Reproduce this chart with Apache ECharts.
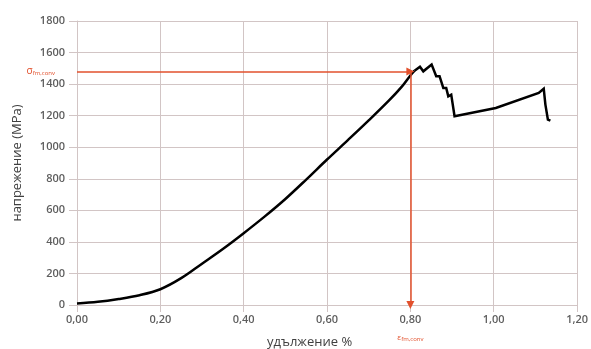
<!DOCTYPE html>
<html>
<head>
<meta charset="utf-8">
<script src="https://cdn.jsdelivr.net/npm/echarts@6/dist/echarts.min.js"></script>
<style>html,body{margin:0;padding:0;background:#fff}#c{width:591px;height:349px}</style>
</head>
<body>
<div id="c"></div>
<script>
// rising (smooth) part of the curve
const riseStrain = [0,0.05,0.1,0.15,0.2,0.25,0.3,0.35,0.4,0.45,0.5,0.55,0.6,0.65,0.7,0.75,0.78,0.8,0.81];
const riseStress = [10,20,38,62,100,170,262,355,455,560,672,795,922,1045,1170,1300,1386,1455,1485];
// failure (jagged) part of the curve
const failStrain = [0.81,0.823,0.831,0.851,0.862,0.870,0.879,0.886,0.891,0.898,0.906,1.005,1.108,1.120,1.124,1.128,1.130,1.136];
const failStress = [1485,1510,1481,1524,1450,1450,1376,1376,1323,1333,1196,1249,1344,1371,1270,1259,1175,1168];
const sigmaFm = 1480;
const epsFm = 0.8;
const xTitle = 'удължение %';
const yTitle = 'напрежение (MPa)';

const gridColor = '#d2c5c5';
const red = '#e2502c';
const lineStyle = {color: '#000', width: 2.5, join: 'miter'};
const chart = echarts.init(document.getElementById('c'));
chart.setOption({
  animation: false,
  backgroundColor: '#fff',
  title: {
    text: xTitle, left: 262, top: 331,
    textStyle: {fontFamily: 'Open Sans', fontSize: 13, fontWeight: 'normal', color: '#404040'}
  },
  grid: {left: 77, right: 9, top: 21, bottom: 44},
  xAxis: {
    type: 'value', min: 0, max: 1.2, interval: 0.2,
    axisLine: {show: true, lineStyle: {color: gridColor, width: 1}},
    axisTick: {show: true, length: 7, lineStyle: {color: gridColor}},
    splitLine: {show: true, lineStyle: {color: gridColor, width: 1}},
    axisLabel: {
      formatter: v => v.toFixed(2).replace('.', ','),
      fontFamily: 'Open Sans', fontSize: 11, fontWeight: 600, color: '#5e5e5e', margin: 9
    }
  },
  yAxis: {
    type: 'value', min: 0, max: 1800, interval: 200,
    name: yTitle, nameLocation: 'middle', nameGap: 53,
    nameTextStyle: {fontFamily: 'Open Sans', fontSize: 13, color: '#404040'},
    axisLine: {show: true, lineStyle: {color: gridColor, width: 1}},
    axisTick: {show: true, length: 8, lineStyle: {color: gridColor}},
    splitLine: {show: true, lineStyle: {color: gridColor, width: 1}},
    axisLabel: {formatter: v => String(v), fontFamily: 'Open Sans', fontSize: 11, fontWeight: 600, color: '#5e5e5e', margin: 12}
  },
  series: [{
    type: 'line',
    data: riseStrain.map((x, i) => [x, riseStress[i]]),
    showSymbol: false, smooth: 0.35,
    lineStyle: lineStyle, z: 3
  }, {
    type: 'line',
    data: failStrain.map((x, i) => [x, failStress[i]]),
    showSymbol: false,
    lineStyle: lineStyle, z: 3,
    markLine: {
      silent: true,
      symbol: ['none', 'triangle'],
      symbolSize: [8, 8],
      lineStyle: {color: red, width: 1.5, type: 'solid'},
      data: [
        [{coord: [0, sigmaFm], symbol: 'none',
          label: {show: true, position: 'start', distance: 22,
            formatter: '{a|σ}{b|fm,conv}',
            rich: {a: {color: red, fontSize: 10, fontFamily: 'Open Sans'}, b: {color: red, fontSize: 6, fontFamily: 'Open Sans', padding: [4, 0, 0, 0]}}}},
         {coord: [epsFm, sigmaFm], symbol: 'triangle', symbolRotate: -90}],
        [{coord: [epsFm, sigmaFm], symbol: 'none', label: {show: true, position: 'end', distance: 28,
            formatter: '{a|ε}{b|fm,conv}',
            rich: {a: {color: red, fontSize: 8, fontFamily: 'Open Sans'}, b: {color: red, fontSize: 6, fontFamily: 'Open Sans', padding: [3, 0, 0, 0]}}}},
         {coord: [epsFm, 0]}]
      ]
    }
  }]
});
</script>
</body>
</html>
